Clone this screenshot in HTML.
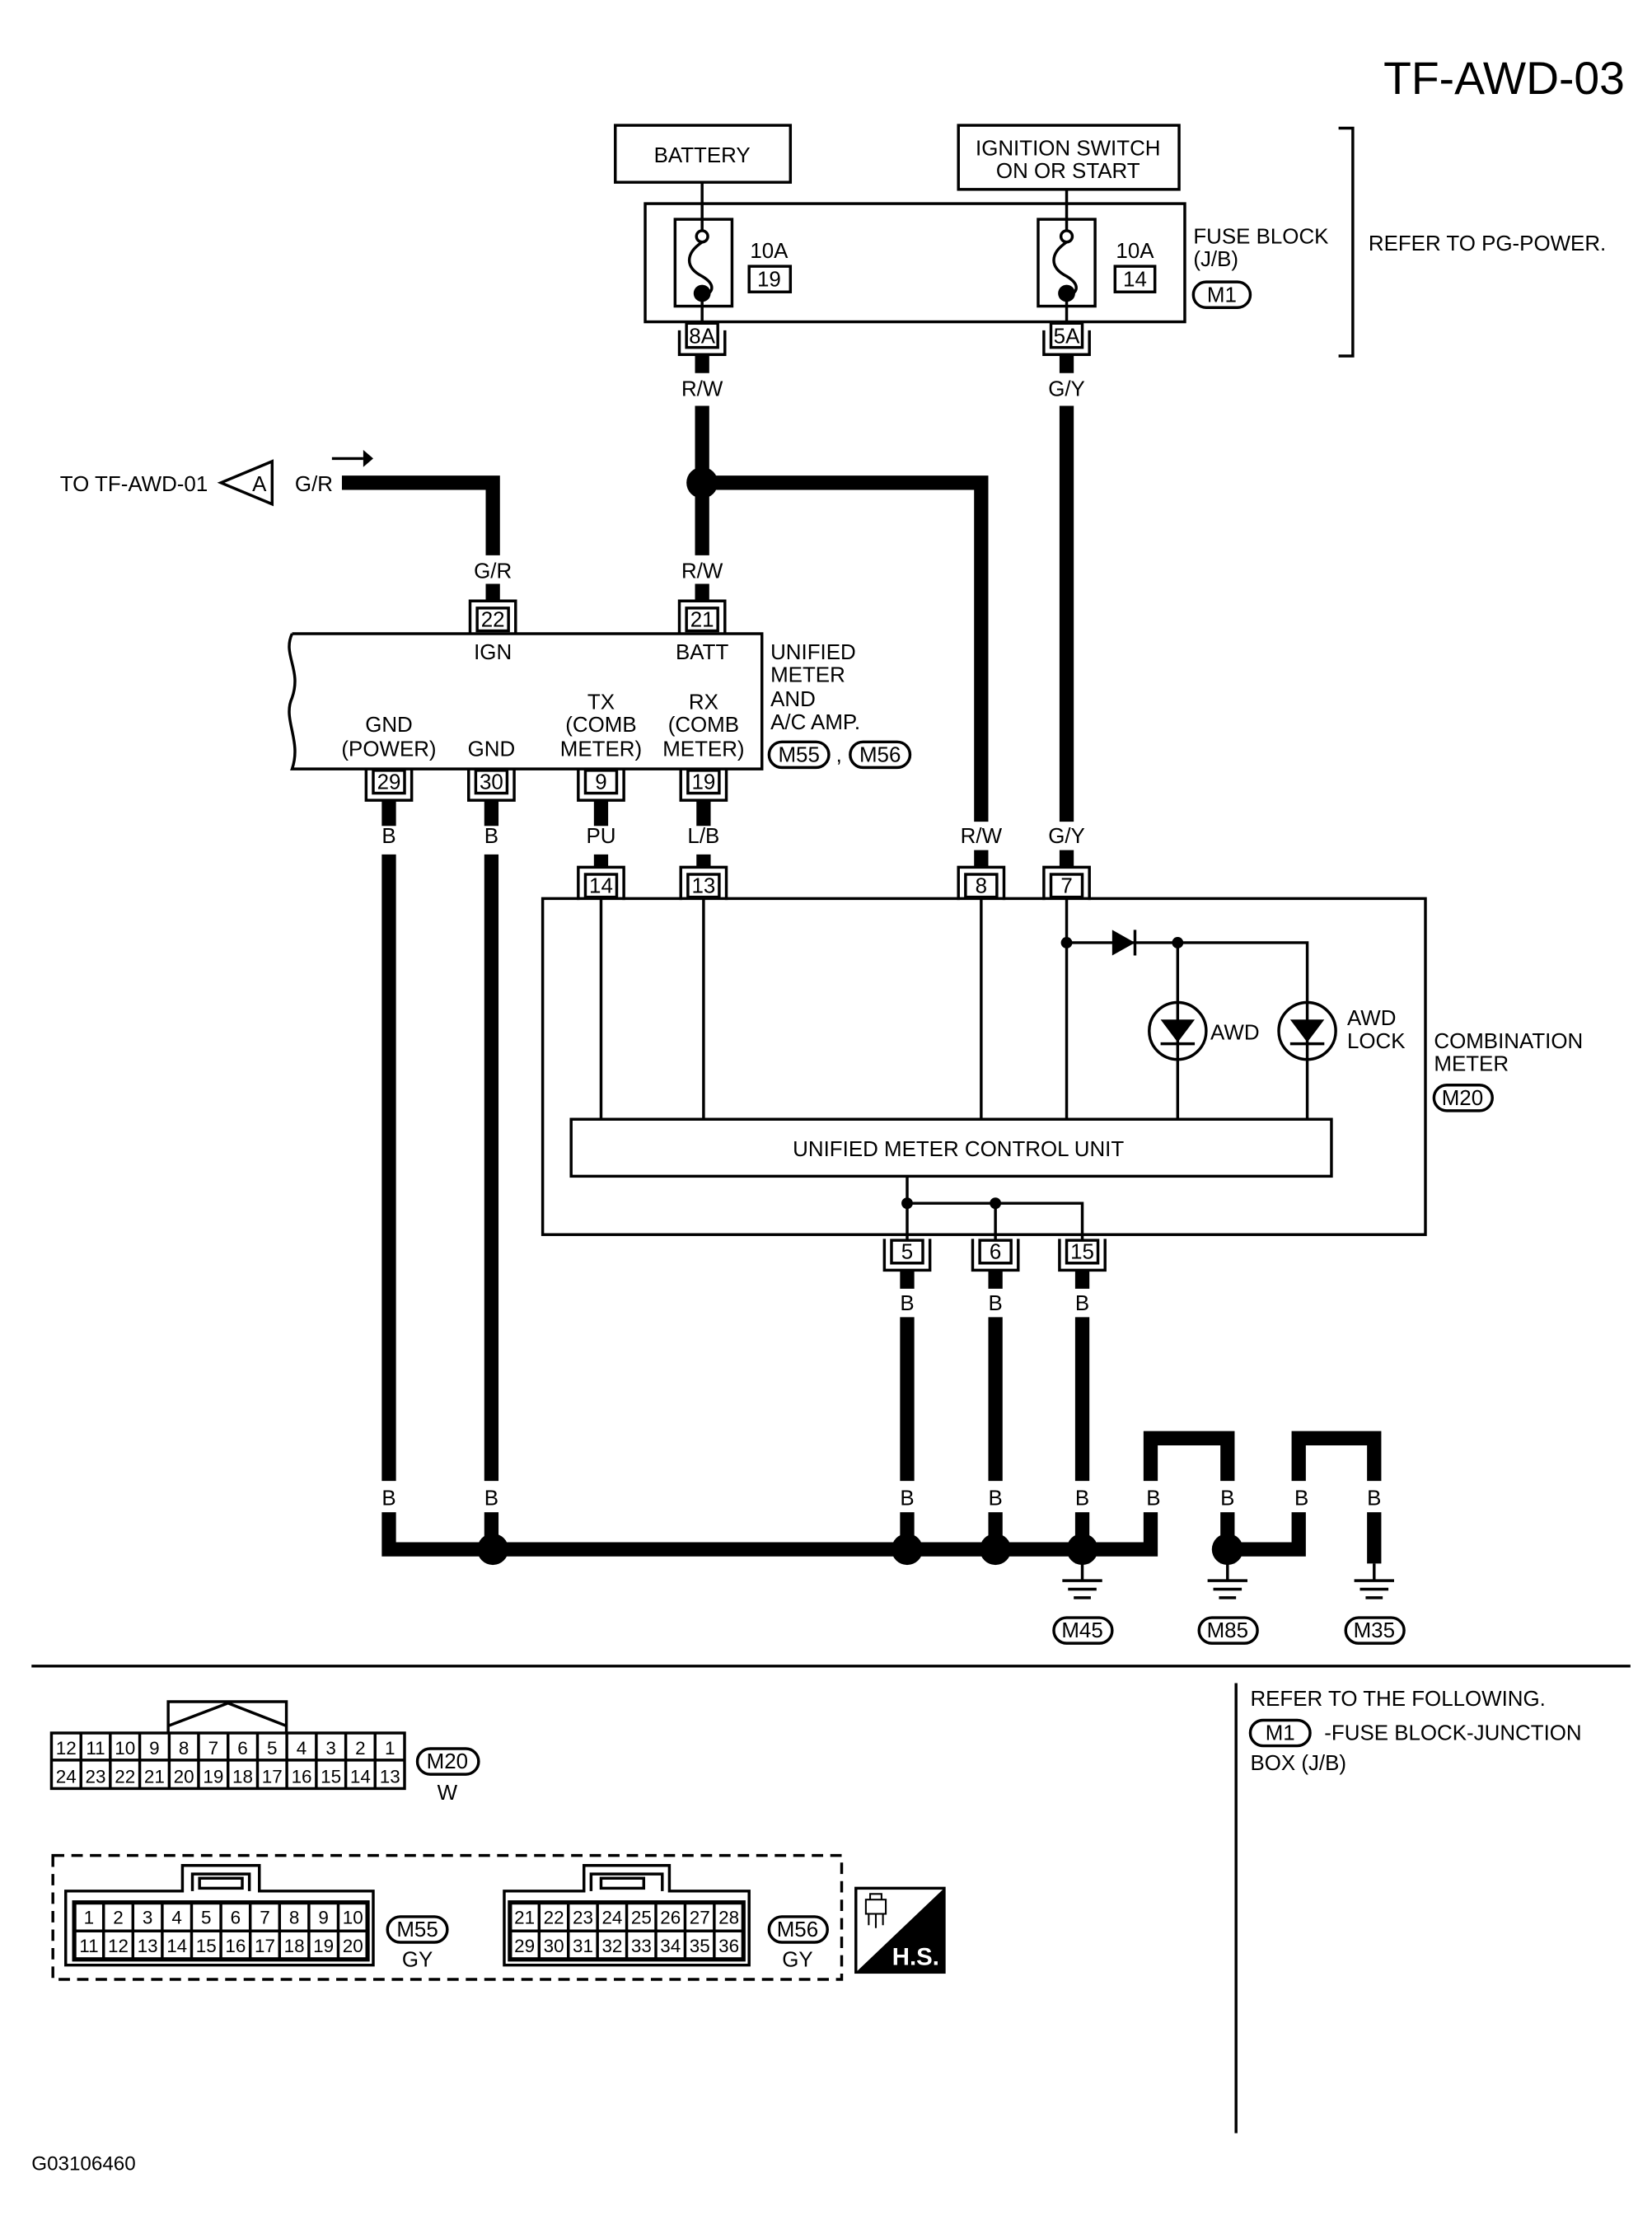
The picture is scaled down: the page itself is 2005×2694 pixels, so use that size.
<!DOCTYPE html>
<html><head><meta charset="utf-8"><style>
html,body{margin:0;padding:0;background:#fff}
svg{display:block}
text{font-family:"Liberation Sans",sans-serif;fill:#000}
</style></head><body>
<svg width="2005" height="2694" viewBox="0 0 1160 1559" xmlns="http://www.w3.org/2000/svg">
<g fill="none" stroke="#000" stroke-width="2">
<rect x="432" y="88" width="123" height="40"/>
<rect x="673" y="88" width="155" height="45"/>
<rect x="453" y="143" width="379" height="83"/>
<rect x="474" y="154" width="40" height="61"/>
<rect x="729" y="154" width="40" height="61"/>
<rect x="526" y="187" width="29" height="18"/>
<rect x="783" y="187" width="28" height="18"/>
<rect x="838" y="198" width="40" height="18" rx="9"/>
<path d="M940 90H950V250H940"/>
<path d="M493 128V166M493 206V228M749 133V166M749 206V228"/>
<path d="M493 170c-12 8 -12 18 0 24c10 6 8 12 0 14"/>
<path d="M749 170c-12 8 -12 18 0 24c10 6 8 12 0 14"/>
<rect x="482" y="227" width="22" height="17"/><path d="M477 232V249H509V232"/>
<rect x="738" y="227" width="22" height="17"/><path d="M733 232V249H765V232"/>
<path d="M205 445H535V540H205C212 520 198 505 205 490C212 470 198 460 205 445"/>
<rect x="540" y="521" width="42" height="18" rx="9"/>
<rect x="597" y="521" width="42" height="18" rx="9"/>
<rect x="335" y="427" width="22" height="16"/><path d="M330 445V422H362V445"/>
<rect x="482" y="427" width="22" height="16"/><path d="M477 445V422H509V445"/>
<rect x="262" y="541" width="22" height="16"/><path d="M257 540V562H289V540"/>
<rect x="334" y="541" width="22" height="16"/><path d="M329 540V562H361V540"/>
<rect x="411" y="541" width="22" height="16"/><path d="M406 540V562H438V540"/>
<rect x="483" y="541" width="22" height="16"/><path d="M478 540V562H510V540"/>
<rect x="411" y="614" width="22" height="16"/><path d="M406 632V609H438V632"/>
<rect x="483" y="614" width="22" height="16"/><path d="M478 632V609H510V632"/>
<rect x="678" y="614" width="22" height="16"/><path d="M673 632V609H705V632"/>
<rect x="738" y="614" width="22" height="16"/><path d="M733 632V609H765V632"/>
<rect x="381" y="631" width="620" height="236"/>
<path d="M422 631V786M494 631V786M689 631V786M749 631V786M749 662H918V786M827 662V786"/>
<circle cx="827" cy="724" r="20"/><circle cx="918" cy="724" r="20"/>
<rect x="401" y="786" width="534" height="40"/>
<rect x="1007" y="762" width="41" height="18" rx="9"/>
<path d="M637 826V871M637 845H760V871M699 845V871"/>
<rect x="626" y="871" width="22" height="16"/><path d="M621 870V892H653V870"/>
<rect x="688" y="871" width="22" height="16"/><path d="M683 870V892H715V870"/>
<rect x="749" y="871" width="22" height="16"/><path d="M744 870V892H776V870"/>
<path d="M760 1098V1110M746 1110H774M750 1116H770M754 1122H766"/>
<path d="M862 1098V1110M848 1110H876M852 1116H872M856 1122H868"/>
<path d="M965 1098V1110M951 1110H979M955 1116H975M959 1122H971"/>
<rect x="740" y="1136" width="41" height="18" rx="9"/>
<rect x="842" y="1136" width="41" height="18" rx="9"/>
<rect x="945" y="1136" width="41" height="18" rx="9"/>
<path d="M155 339L191 324V354Z"/>
<path d="M233 322H255"/>
<path d="M22 1170H1145M868 1182V1498"/>
<rect x="878" y="1208" width="42" height="18" rx="9"/>
<rect x="36" y="1217" width="248" height="39"/>
<path d="M36 1236H284"/>
<path d="M56.7 1217V1256M77.3 1217V1256M98 1217V1256M118.7 1217V1256M139.3 1217V1256M160 1217V1256M180.7 1217V1256M201.3 1217V1256M222 1217V1256M242.7 1217V1256M263.3 1217V1256"/>
<path d="M118 1217V1195H201V1217M118 1212L160 1196L201 1212"/>
<rect x="293" y="1228" width="43" height="18" rx="9"/>
<rect x="37" y="1303" width="554" height="87" stroke-dasharray="8 5"/>
<path d="M46 1380V1328H128V1310H182V1328H262V1380Z"/>
<path d="M135 1328V1316H175V1328"/><rect x="140" y="1319" width="30" height="7"/>
<rect x="52" y="1336" width="206" height="40" stroke-width="3"/>
<path d="M52 1356H258"/>
<path d="M72.6 1336V1376M93.2 1336V1376M113.8 1336V1376M134.4 1336V1376M155 1336V1376M175.6 1336V1376M196.2 1336V1376M216.8 1336V1376M237.4 1336V1376"/>
<rect x="272" y="1346" width="42" height="18" rx="9"/>
<path d="M354 1380V1328H410V1310H470V1328H526V1380Z"/>
<path d="M415 1328V1316H465V1328"/><rect x="422" y="1319" width="30" height="7"/>
<rect x="358" y="1336" width="164" height="40" stroke-width="3"/>
<path d="M358 1356H522"/>
<path d="M378.5 1336V1376M399 1336V1376M419.5 1336V1376M440 1336V1376M460.5 1336V1376M481 1336V1376M501.5 1336V1376"/>
<rect x="540" y="1346" width="41" height="18" rx="9"/>
<rect x="601" y="1326" width="62" height="59"/>
</g>
<path d="M663 1326V1385H601Z" fill="#000"/>
<g fill="none" stroke="#000" stroke-width="1.2"><rect x="608" y="1334" width="14" height="10"/><path d="M611 1334V1330H619V1334M610 1344V1352M615 1344V1354M620 1344V1352"/></g>
<text x="643" y="1380" font-size="17" font-weight="bold" text-anchor="middle" style="fill:#fff">H.S.</text>
<g fill="none" stroke="#000" stroke-width="10">
<path d="M493 249V262M493 285V390M493 410V422"/>
<path d="M493 339H689V577M689 597V609"/>
<path d="M749 249V262M749 285V577M749 597V609"/>
<path d="M240 339H346V390M346 410V422"/>
<path d="M273 562V580M273 600V1040M273 1062V1088H808V1062M808 1040V1010H862V1040M862 1062V1098"/>
<path d="M345 562V580M345 600V1040M345 1062V1088"/>
<path d="M422 562V580M422 600V609M494 562V580M494 600V609"/>
<path d="M637 892V905M637 925V1040M637 1062V1088"/>
<path d="M699 892V905M699 925V1040M699 1062V1088"/>
<path d="M760 892V905M760 925V1040M760 1062V1098"/>
<path d="M862 1088H912V1062M912 1040V1010H965V1040M965 1062V1098"/>
</g>
<g fill="#000">
<circle cx="493" cy="339" r="11"/>
<circle cx="346" cy="1088" r="11"/><circle cx="637" cy="1088" r="11"/><circle cx="699" cy="1088" r="11"/><circle cx="760" cy="1088" r="11"/><circle cx="862" cy="1088" r="11"/>
<circle cx="493" cy="166" r="4" fill="#fff" stroke="#000" stroke-width="2"/><circle cx="493" cy="206" r="6"/>
<circle cx="749" cy="166" r="4" fill="#fff" stroke="#000" stroke-width="2"/><circle cx="749" cy="206" r="6"/>
<circle cx="749" cy="662" r="4"/><circle cx="827" cy="662" r="4"/>
<circle cx="637" cy="845" r="4"/><circle cx="699" cy="845" r="4"/>
<path d="M781 653V671L797 662Z"/><path d="M797 653V671" stroke="#000" stroke-width="2"/>
<path d="M815 716H839L827 732Z"/><path d="M815 733H839" stroke="#000" stroke-width="2"/>
<path d="M906 716H930L918 732Z"/><path d="M906 733H930" stroke="#000" stroke-width="2"/>
<path d="M255 316L262 322L255 328Z"/>
</g>
<g font-size="15">
<text x="1141" y="66" font-size="32" text-anchor="end">TF-AWD-03</text>
<text x="493" y="114" text-anchor="middle">BATTERY</text>
<text x="750" y="109" text-anchor="middle">IGNITION SWITCH</text>
<text x="750" y="125" text-anchor="middle">ON OR START</text>
<text x="540" y="181" text-anchor="middle">10A</text><text x="540" y="201" text-anchor="middle">19</text>
<text x="797" y="181" text-anchor="middle">10A</text><text x="797" y="201" text-anchor="middle">14</text>
<text x="838" y="171">FUSE BLOCK</text><text x="838" y="187">(J/B)</text>
<text x="858" y="212" text-anchor="middle">M1</text>
<text x="961" y="176">REFER TO PG-POWER.</text>
<text x="493" y="241" text-anchor="middle">8A</text><text x="749" y="241" text-anchor="middle">5A</text>
<text x="493" y="278" text-anchor="middle">R/W</text><text x="749" y="278" text-anchor="middle">G/Y</text>
<text x="42" y="345">TO TF-AWD-01</text>
<text x="182" y="345" text-anchor="middle">A</text>
<text x="207" y="345">G/R</text>
<text x="346" y="406" text-anchor="middle">G/R</text><text x="493" y="406" text-anchor="middle">R/W</text>
<text x="346" y="440" text-anchor="middle">22</text><text x="493" y="440" text-anchor="middle">21</text>
<text x="346" y="463" text-anchor="middle">IGN</text><text x="493" y="463" text-anchor="middle">BATT</text>
<text x="541" y="463">UNIFIED</text><text x="541" y="479">METER</text><text x="541" y="496">AND</text><text x="541" y="512">A/C AMP.</text>
<text x="561" y="535" text-anchor="middle">M55</text><text x="587" y="535">,</text><text x="618" y="535" text-anchor="middle">M56</text>
<text x="273" y="514" text-anchor="middle">GND</text><text x="273" y="531" text-anchor="middle">(POWER)</text>
<text x="345" y="531" text-anchor="middle">GND</text>
<text x="422" y="498" text-anchor="middle">TX</text><text x="422" y="514" text-anchor="middle">(COMB</text><text x="422" y="531" text-anchor="middle">METER)</text>
<text x="494" y="498" text-anchor="middle">RX</text><text x="494" y="514" text-anchor="middle">(COMB</text><text x="494" y="531" text-anchor="middle">METER)</text>
<text x="273" y="554" text-anchor="middle">29</text><text x="345" y="554" text-anchor="middle">30</text><text x="422" y="554" text-anchor="middle">9</text><text x="494" y="554" text-anchor="middle">19</text>
<text x="273" y="592" text-anchor="middle">B</text><text x="345" y="592" text-anchor="middle">B</text><text x="422" y="592" text-anchor="middle">PU</text><text x="494" y="592" text-anchor="middle">L/B</text>
<text x="689" y="592" text-anchor="middle">R/W</text><text x="749" y="592" text-anchor="middle">G/Y</text>
<text x="422" y="627" text-anchor="middle">14</text><text x="494" y="627" text-anchor="middle">13</text><text x="689" y="627" text-anchor="middle">8</text><text x="749" y="627" text-anchor="middle">7</text>
<text x="850" y="730">AWD</text><text x="946" y="720">AWD</text><text x="946" y="736">LOCK</text>
<text x="1007" y="736">COMBINATION</text><text x="1007" y="752">METER</text>
<text x="1027" y="776" text-anchor="middle">M20</text>
<text x="673" y="812" text-anchor="middle">UNIFIED METER CONTROL UNIT</text>
<text x="637" y="884" text-anchor="middle">5</text><text x="699" y="884" text-anchor="middle">6</text><text x="760" y="884" text-anchor="middle">15</text>
<text x="637" y="920" text-anchor="middle">B</text><text x="699" y="920" text-anchor="middle">B</text><text x="760" y="920" text-anchor="middle">B</text>
<text x="273" y="1057" text-anchor="middle">B</text><text x="345" y="1057" text-anchor="middle">B</text><text x="637" y="1057" text-anchor="middle">B</text><text x="699" y="1057" text-anchor="middle">B</text><text x="760" y="1057" text-anchor="middle">B</text>
<text x="810" y="1057" text-anchor="middle">B</text><text x="862" y="1057" text-anchor="middle">B</text><text x="914" y="1057" text-anchor="middle">B</text><text x="965" y="1057" text-anchor="middle">B</text>
<text x="760" y="1150" text-anchor="middle">M45</text><text x="862" y="1150" text-anchor="middle">M85</text><text x="965" y="1150" text-anchor="middle">M35</text>
<text x="878" y="1198">REFER TO THE FOLLOWING.</text>
<text x="899" y="1222" text-anchor="middle">M1</text>
<text x="930" y="1222">-FUSE BLOCK-JUNCTION</text>
<text x="878" y="1243">BOX (J/B)</text>
<text x="314" y="1242" text-anchor="middle">M20</text><text x="314" y="1264" text-anchor="middle">W</text>
<text x="293" y="1360" text-anchor="middle">M55</text><text x="293" y="1381" text-anchor="middle">GY</text>
<text x="560" y="1360" text-anchor="middle">M56</text><text x="560" y="1381" text-anchor="middle">GY</text>
<text x="22" y="1524" font-size="14">G03106460</text>
</g>
<g font-size="13" text-anchor="middle">
<text x="46.3" y="1232">12</text><text x="67" y="1232">11</text><text x="87.7" y="1232">10</text><text x="108.3" y="1232">9</text><text x="129" y="1232">8</text><text x="149.7" y="1232">7</text><text x="170.3" y="1232">6</text><text x="191" y="1232">5</text><text x="211.7" y="1232">4</text><text x="232.3" y="1232">3</text><text x="253" y="1232">2</text><text x="273.7" y="1232">1</text>
<text x="46.3" y="1252">24</text><text x="67" y="1252">23</text><text x="87.7" y="1252">22</text><text x="108.3" y="1252">21</text><text x="129" y="1252">20</text><text x="149.7" y="1252">19</text><text x="170.3" y="1252">18</text><text x="191" y="1252">17</text><text x="211.7" y="1252">16</text><text x="232.3" y="1252">15</text><text x="253" y="1252">14</text><text x="273.7" y="1252">13</text>
<text x="62.3" y="1351">1</text><text x="82.9" y="1351">2</text><text x="103.5" y="1351">3</text><text x="124.1" y="1351">4</text><text x="144.7" y="1351">5</text><text x="165.3" y="1351">6</text><text x="185.9" y="1351">7</text><text x="206.5" y="1351">8</text><text x="227.1" y="1351">9</text><text x="247.7" y="1351">10</text>
<text x="62.3" y="1371">11</text><text x="82.9" y="1371">12</text><text x="103.5" y="1371">13</text><text x="124.1" y="1371">14</text><text x="144.7" y="1371">15</text><text x="165.3" y="1371">16</text><text x="185.9" y="1371">17</text><text x="206.5" y="1371">18</text><text x="227.1" y="1371">19</text><text x="247.7" y="1371">20</text>
<text x="368.3" y="1351">21</text><text x="388.8" y="1351">22</text><text x="409.3" y="1351">23</text><text x="429.8" y="1351">24</text><text x="450.3" y="1351">25</text><text x="470.8" y="1351">26</text><text x="491.3" y="1351">27</text><text x="511.8" y="1351">28</text>
<text x="368.3" y="1371">29</text><text x="388.8" y="1371">30</text><text x="409.3" y="1371">31</text><text x="429.8" y="1371">32</text><text x="450.3" y="1371">33</text><text x="470.8" y="1371">34</text><text x="491.3" y="1371">35</text><text x="511.8" y="1371">36</text>
</g>
</svg>
</body></html>
